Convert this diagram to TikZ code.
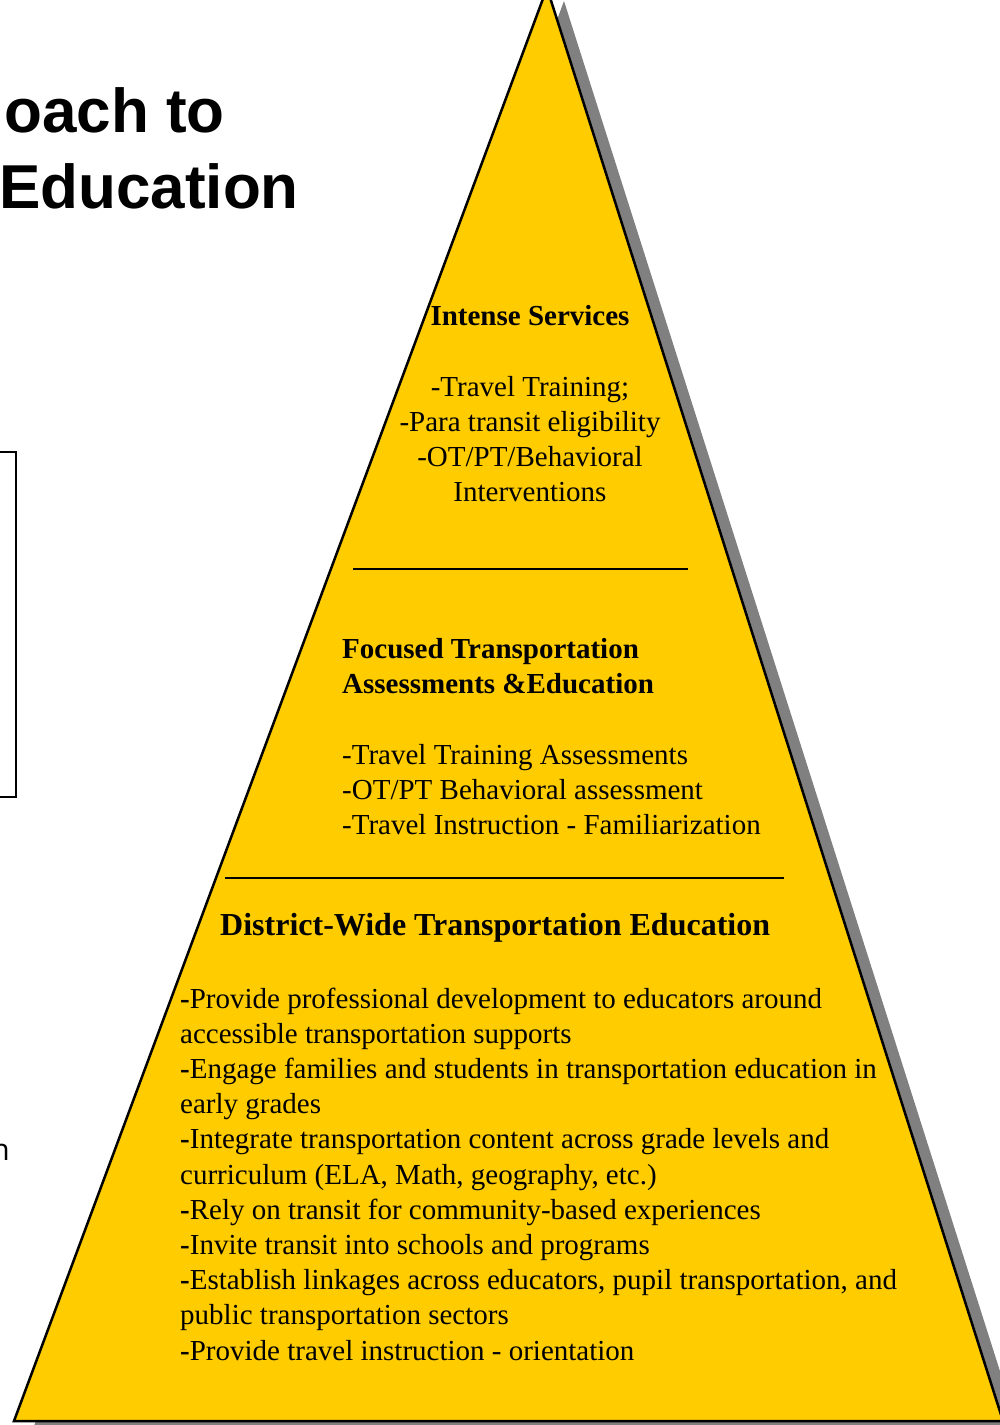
\documentclass[tikz,border=0pt]{standalone}
\usepackage{fontspec}
\setmainfont{Liberation Serif}
\newfontfamily\titlefont{Liberation Sans}
\newfontfamily\fragfont{Open Sans}
\definecolor{pyryellow}{HTML}{FFCC00}
\definecolor{pyrshadow}{HTML}{808080}
\begin{document}
\begin{tikzpicture}[x=1pt,y=-1pt,
  body/.style={inner sep=0pt, font=\fontsize{29}{35}\selectfont},
  head/.style={body, font=\fontsize{29}{35}\selectfont\bfseries},
  bighead/.style={body, font=\fontsize{32}{38}\selectfont\bfseries},
  sepline/.style={line width=2pt, black},
  title/.style={inner sep=0pt, anchor=base east, font=\titlefont\fontsize{62}{70}\selectfont\bfseries}]
\useasboundingbox (0,0) rectangle (1000,1425);
\begin{scope}
\clip (0,0) rectangle (1000,1425);
% shadow and pyramid
\coordinate (apex) at (547,-12);
\coordinate (bl) at (14,1421);
\coordinate (br) at (1003,1421);
\fill[pyrshadow] ([shift={(17,13)}]apex) -- ([shift={(17,13)}]bl) -- ([shift={(17,13)}]br) -- cycle;
\filldraw[fill=pyryellow, draw=black, line width=2.5pt, line join=miter] (apex) -- (bl) -- (br) -- cycle;
% title fragment
\node[title] (t1) at (225,132) {oach to};
\node[title] (t2) at (299,208) {Education};
% left box fragment
\coordinate (bx1) at (-10,452);
\coordinate (bx2) at (16,797);
\draw[line width=2pt] (bx1) rectangle (bx2);
\node[inner sep=0pt, anchor=base east, font=\fragfont\fontsize{30}{36}\selectfont] (frag) at (10,1160) {n};
% top tier
\node[head, anchor=base] (is) at (530,325) {Intense Services};
\node[body, anchor=base] (i1) at (530,396) {-Travel Training;};
\node[body, anchor=base] (i2) at (530,431) {-Para transit eligibility};
\node[body, anchor=base] (i3) at (530,466) {-OT/PT/Behavioral};
\node[body, anchor=base] (i4) at (530,501) {Interventions};
\coordinate (s1a) at (353,569);
\coordinate (s1b) at (688,569);
\draw[sepline] (s1a) -- (s1b);
% middle tier
\node[head, anchor=base west] (f1) at (342,658) {Focused Transportation};
\node[head, anchor=base west] (f2) at (342,693) {Assessments \&Education};
\node[body, anchor=base west] (f3) at (342,764) {-Travel Training Assessments};
\node[body, anchor=base west] (f4) at (342,799) {-OT/PT Behavioral assessment};
\node[body, anchor=base west] (f5) at (342,834) {-Travel Instruction - Familiarization};
\coordinate (s2a) at (225,878);
\coordinate (s2b) at (784,878);
\draw[sepline] (s2a) -- (s2b);
% bottom tier
\node[bighead, anchor=base west] (d0) at (220,935) {District-Wide Transportation Education};
\node[body, anchor=base west] (d1) at (180,1008) {\textbf{-}Provide professional development to educators around};
\node[body, anchor=base west] (d2) at (180,1043.2) {accessible transportation supports};
\node[body, anchor=base west] (d3) at (180,1078.4) {\textbf{-}Engage families and students in transportation education in};
\node[body, anchor=base west] (d4) at (180,1113.6) {early grades};
\node[body, anchor=base west] (d5) at (180,1148.8) {\textbf{-}Integrate transportation content across grade levels and};
\node[body, anchor=base west] (d6) at (180,1184) {curriculum (ELA, Math, geography, etc.)};
\node[body, anchor=base west] (d7) at (180,1219.2) {\textbf{-}Rely on transit for community-based experiences};
\node[body, anchor=base west] (d8) at (180,1254.4) {\textbf{-}Invite transit into schools and programs};
\node[body, anchor=base west] (d9) at (180,1289.6) {\textbf{-}Establish linkages across educators, pupil transportation, and};
\node[body, anchor=base west] (d10) at (180,1324.8) {public transportation sectors};
\node[body, anchor=base west] (d11) at (180,1360) {\textbf{-}Provide travel instruction - orientation};
\end{scope}
\end{tikzpicture}
\end{document}
